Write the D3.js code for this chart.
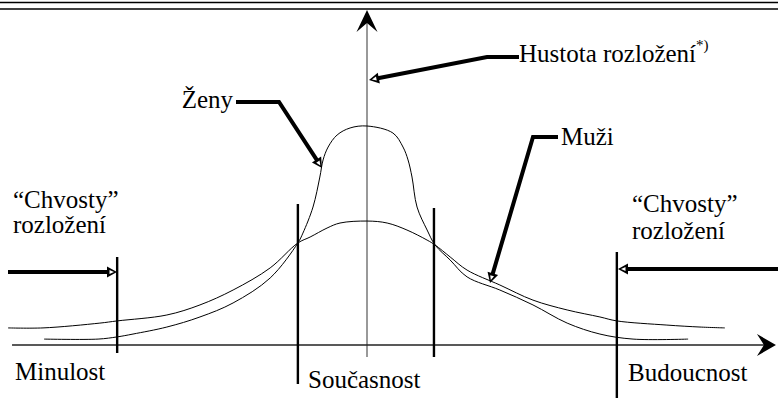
<!DOCTYPE html>
<html>
<head>
<meta charset="utf-8">
<script src="https://cdn.jsdelivr.net/npm/d3@7"></script>
<style>
  html, body { margin: 0; padding: 0; background: #fff; }
  svg { display: block; }
  text { font-family: "Liberation Serif", "Times New Roman", serif; fill: #000; }
</style>
</head>
<body>
<svg id="chart" width="778" height="398"></svg>
<script>
// ---- Data (time relative to present: negative = past, positive = future; density, peak of Ženy = 1) ----
const zenyT = [-89.7, -74.7, -69.4, -65.0, -55.6, -46.4, -37.2, -26.9, -19.2, -17.8, -15.0, -13.1, -12.2, -10.8, -8.3, -4.7, 0, 7.2, 10.0, 11.4, 12.5, 13.9, 16.7, 18.9, 23.1, 27.8, 36.9, 46.1, 55.6, 64.7, 73.9, 89.2];
const zenyV = [0.027, 0.027, 0.037, 0.050, 0.082, 0.128, 0.192, 0.306, 0.466, 0.511, 0.630, 0.767, 0.845, 0.904, 0.959, 0.991, 1.0, 0.968, 0.904, 0.845, 0.767, 0.630, 0.525, 0.457, 0.388, 0.311, 0.251, 0.183, 0.100, 0.050, 0.027, 0.027];
const muziT = [-99.7, -90.0, -74.2, -69.4, -55.6, -46.4, -37.2, -26.9, -19.2, -15.8, -11.1, -7.5, 0, 5.6, 11.1, 16.7, 18.9, 23.1, 27.8, 36.9, 46.1, 55.6, 64.7, 69.4, 83.3, 92.5, 99.4];
const muziV = [0.078, 0.078, 0.100, 0.110, 0.137, 0.183, 0.251, 0.352, 0.466, 0.493, 0.534, 0.557, 0.566, 0.557, 0.525, 0.479, 0.457, 0.402, 0.342, 0.274, 0.205, 0.160, 0.128, 0.110, 0.091, 0.082, 0.078];
const markerT = [-69.4, -19.2, 18.6, 69.4];          // boundaries: tails | core | tails
const axisT = [-98.6, 113.6];                          // extent of the time axis
const periodLabels = ["Minulost", "Současnost", "Budoucnost"];
const seriesLabels = ["Ženy", "Muži"];
const densityLabel = "Hustota rozložení";
const tailLabel = ["“Chvosty”", "rozložení"];

// ---- Layout ----
const W = 778, H = 398;
const svg = d3.select("#chart");
const x = d3.scaleLinear().domain([-100, 100]).range([7, 727]);
const y = d3.scaleLinear().domain([0, 1]).range([345, 126]);
const x0 = x(0), y0 = y(0);

// top double rule
[2.5, 9].forEach(yy => svg.append("line").attr("x1", 0).attr("x2", W).attr("y1", yy).attr("y2", yy)
  .attr("stroke", "#000").attr("stroke-width", 1.6));

// vertical (density) axis
svg.append("line").attr("x1", x0).attr("x2", x0).attr("y1", 22).attr("y2", 357)
  .attr("stroke", "#777").attr("stroke-width", 1.5);
svg.append("path").attr("d", `M${x0},10 L${x0 + 10.5},32 L${x0},23 L${x0 - 10.5},32 Z`).attr("fill", "#000");

// horizontal (time) axis
const xa0 = x(axisT[0]), xa1 = x(axisT[1]);
svg.append("line").attr("x1", xa0).attr("x2", xa1 - 10).attr("y1", y0).attr("y2", y0)
  .attr("stroke", "#222").attr("stroke-width", 1.5);
svg.append("path").attr("d", `M${xa1},${y0} L${xa1 - 19},${y0 - 11} L${xa1 - 12},${y0} L${xa1 - 19},${y0 + 11} Z`).attr("fill", "#000");

// curves
const line = d3.line().x(d => x(d[0])).y(d => y(d[1])).curve(d3.curveCatmullRom.alpha(0.5));
svg.append("path").datum(zenyT.map((t, i) => [t, zenyV[i]])).attr("d", line)
  .attr("fill", "none").attr("stroke", "#000").attr("stroke-width", 1);
svg.append("path").datum(muziT.map((t, i) => [t, muziV[i]])).attr("d", line)
  .attr("fill", "none").attr("stroke", "#000").attr("stroke-width", 1);

// boundary markers
const markerExt = [[257, 353], [204, 384], [208, 357], [252, 398]];
markerT.forEach((t, i) => svg.append("line")
  .attr("x1", x(t)).attr("x2", x(t)).attr("y1", markerExt[i][0]).attr("y2", markerExt[i][1])
  .attr("stroke", "#000").attr("stroke-width", 2.4));

// leader arrows
function leader(pts) {
  const n = pts.length;
  const [tx, ty] = pts[n - 1], [px, py] = pts[n - 2];
  const dx = tx - px, dy = ty - py, L = Math.hypot(dx, dy);
  const ux = dx / L, uy = dy / L, nx = -uy, ny = ux;
  const hl = 10, hw = 5.5;
  const bx = tx - ux * hl, by = ty - uy * hl;
  const p = pts.slice(0, n - 1).concat([[bx + ux * 1, by + uy * 1]]);
  svg.append("path").attr("d", d3.line()(p)).attr("fill", "none")
    .attr("stroke", "#000").attr("stroke-width", 4).attr("stroke-linejoin", "miter");
  svg.append("path").attr("d", `M${tx},${ty} L${bx + nx * hw},${by + ny * hw} L${bx - nx * hw},${by - ny * hw} Z`)
    .attr("fill", "#000");
  const cx = tx - ux * 5.5, cy = ty - uy * 5.5;
  svg.append("path").attr("d", `M${cx + ux * 2.5},${cy + uy * 2.5} L${cx - ux * 2 + nx * 2},${cy - uy * 2 + ny * 2} L${cx - ux * 2 - nx * 2},${cy - uy * 2 - ny * 2} Z`)
    .attr("fill", "#fff");
}
leader([[519, 57], [487, 57], [369, 80]]);
leader([[236, 102], [279, 102], [322, 168]]);
leader([[558, 137], [533, 137], [490, 283]]);
leader([[8, 272], [117, 272]]);
leader([[778, 269], [618, 269]]);

// texts
const fs = 25;
function txt(s, xx, yy, anchor) {
  return svg.append("text").attr("x", xx).attr("y", yy).attr("font-size", fs)
    .attr("text-anchor", anchor || "start").text(s);
}
const ht = txt(densityLabel, 519, 62);
ht.append("tspan").attr("font-size", 15).attr("dy", -12).text("*)");
txt(seriesLabels[0], 233, 108, "end");
txt(seriesLabels[1], 561, 145);
txt(tailLabel[0], 13, 208); txt(tailLabel[1], 13, 233);
txt(tailLabel[0], 632, 212); txt(tailLabel[1], 632, 239);
txt(periodLabels[0], 15, 380);
txt(periodLabels[1], 308, 388);
txt(periodLabels[2], 628, 381);
</script>
</body>
</html>
